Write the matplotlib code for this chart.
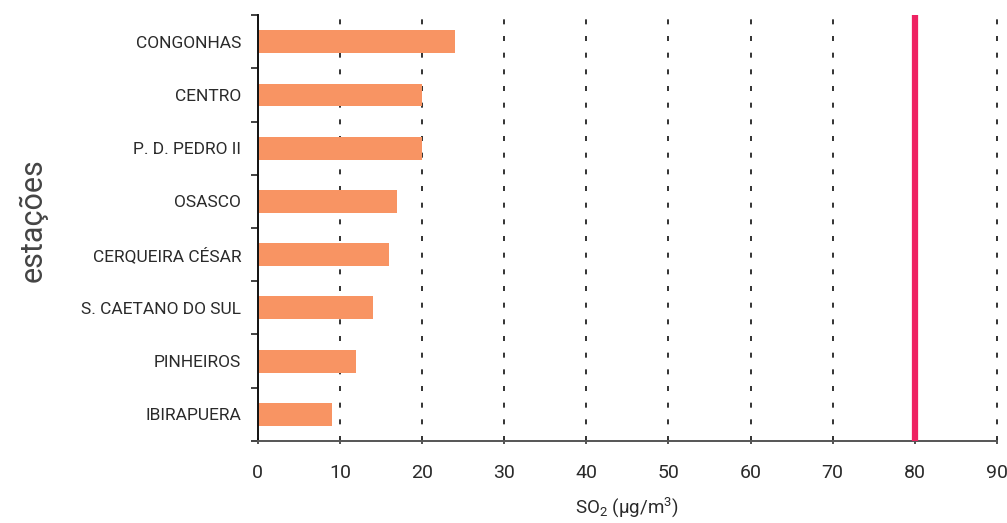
import matplotlib.pyplot as plt
import numpy as np

# Dados (SO2, estações)
estacoes = ['CONGONHAS', 'CENTRO', 'P. D. PEDRO II', 'OSASCO',
            'CERQUEIRA CÉSAR', 'S. CAETANO DO SUL', 'PINHEIROS', 'IBIRAPUERA']
valores = [24, 20, 20, 17, 16, 14, 12, 9]
limite = 80
ticks_x = [0, 10, 20, 30, 40, 50, 60, 70, 80, 90]

plt.rcParams['font.family'] = ['Roboto', 'DejaVu Sans']
plt.rcParams['mathtext.default'] = 'regular'

fig = plt.figure(figsize=(10.07, 5.23), dpi=100)
ax = fig.add_axes([0.256, 0.157, 0.734, 0.814])

y = np.arange(len(estacoes))
ax.barh(y, valores, height=0.43, color='#f89463', zorder=2)

# linhas tracejadas
for x in ticks_x[1:]:
    ax.axvline(x, color='#111111', lw=1.2, dashes=(3, 7), zorder=1, clip_on=False)

# limite
ax.axvline(limite, color='#ee2262', lw=4.5, zorder=3)

ax.set_xlim(0, 90)
ax.set_ylim(len(estacoes) - 0.5, -0.5)
ax.set_xticks(ticks_x)
ax.set_yticks(y)
ax.set_yticklabels(estacoes)
ax.set_yticks(np.arange(-0.5, len(estacoes), 1), minor=True)

ax.tick_params(axis='y', which='major', length=0, pad=12, labelsize=12.5, labelcolor='#2a2a2a')
ax.tick_params(axis='y', which='minor', length=5, width=1.2, direction='out', color='#222222')
ax.tick_params(axis='x', length=5, width=1.2, direction='inout', pad=14, labelsize=14,
               labelcolor='#2a2a2a', color='#333333')

for s in ['top', 'right']:
    ax.spines[s].set_visible(False)
ax.spines['left'].set_color('#111111')
ax.spines['left'].set_linewidth(1.4)
ax.spines['bottom'].set_color('#555555')
ax.spines['bottom'].set_linewidth(1.4)

ax.set_xlabel('SO$_2$ (µg/m$^3$)', fontsize=13.5, color='#2a2a2a', labelpad=10)
fig.text(0.033, 0.58, 'estações', rotation=90, fontsize=22, color='#444444',
         ha='center', va='center')

plt.savefig('out.png', dpi=100)
